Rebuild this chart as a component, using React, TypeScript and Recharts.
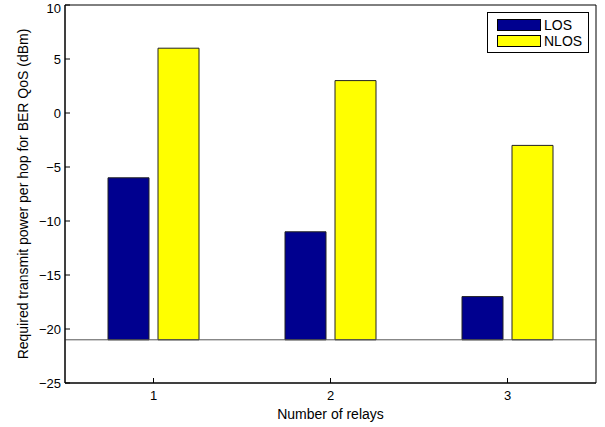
import React from "react";
import {
  ComposedChart, Bar, XAxis, YAxis, ReferenceLine, ReferenceArea,
} from "recharts";

// ─── Data ────────────────────────────────────────────────────────────────────

const RELAYS = ["1", "2", "3"];
const LOS = [-6, -11, -17];
const NLOS = [6, 3, -3];
const BASE_VALUE = -21;
const Y_MIN = -25;
const Y_MAX = 10;
const Y_TICKS = [-25, -20, -15, -10, -5, 0, 5, 10];

const data = RELAYS.map((r, i) => ({
  relays: r,
  los: [BASE_VALUE, LOS[i]],
  nlos: [BASE_VALUE, NLOS[i]],
}));

// ─── Styles / layout ─────────────────────────────────────────────────────────

const FONT = "'Liberation Sans', Arial, Helvetica, sans-serif";
const TICK_STYLE = { fontSize: 13, fill: "#000", fontFamily: FONT } as const;
const LABEL_STYLE = { fontSize: 14, fill: "#000", fontFamily: FONT } as const;
const AXIS_LINE = { stroke: "#000", strokeWidth: 1 } as const;
const LOS_COLOR = "#00008f";
const NLOS_COLOR = "#ffff00";

const SERIES = [
  { key: "los", name: "LOS", color: LOS_COLOR },
  { key: "nlos", name: "NLOS", color: NLOS_COLOR },
];

const fmtMinus = (v: number | string) => String(v).replace("-", "\u2212");

function LegendBox() {
  return (
    <div style={{
      position: "absolute", left: 487, top: 12, width: 102, height: 41,
      border: "1px solid #000", background: "#fff",
      fontFamily: FONT, fontSize: 14, boxSizing: "border-box", paddingTop: 4,
    }}>
      {SERIES.map((s) => (
        <div key={s.key} style={{ display: "flex", alignItems: "center", height: 16, marginLeft: 9 }}>
          <span style={{ display: "inline-block", width: 44, height: 12, boxSizing: "border-box", background: s.color, border: "1px solid #000", marginRight: 3 }} />
          <span style={{ lineHeight: "14px" }}>{s.name}</span>
        </div>
      ))}
    </div>
  );
}

export default function App() {
  return (
    <div style={{ position: "absolute", left: 0, top: 0, width: 605, height: 427, background: "#fff" }}>
      <ComposedChart
        width={605}
        height={427}
        data={data}
        margin={{ top: 5, right: 9, bottom: 0, left: 0 }}
        barGap={9}
        barSize={41}
      >
        <XAxis
          dataKey="relays"
          height={44}
          tick={TICK_STYLE}
          fontSize={13}
          tickSize={-5}
          tickMargin={13}
          axisLine={AXIS_LINE}
          tickLine={AXIS_LINE}
          label={{ value: "Number of relays", position: "insideBottom", offset: 8, style: LABEL_STYLE }}
        />
        <YAxis
          width={65}
          domain={[Y_MIN, Y_MAX]}
          ticks={Y_TICKS}
          allowDataOverflow
          tick={TICK_STYLE}
          fontSize={13}
          tickSize={-5}
          tickMargin={9}
          tickFormatter={fmtMinus}
          axisLine={AXIS_LINE}
          tickLine={AXIS_LINE}
          label={{
            value: "Required transmit power per hop for BER QoS (dBm)",
            angle: -90,
            position: "insideLeft",
            offset: 23,
            style: { ...LABEL_STYLE, textAnchor: "middle" },
          }}
        />
        {/* MATLAB-style closed axes box */}
        <ReferenceArea y1={Y_MIN} y2={Y_MAX} fill="none" fillOpacity={0} stroke="#000" strokeWidth={1} ifOverflow="visible" />
        <ReferenceLine y={BASE_VALUE} stroke="#555" strokeWidth={1} />
        {SERIES.map((s) => (
          <Bar key={s.key} dataKey={s.key} name={s.name} fill={s.color} stroke="#222" strokeWidth={1} isAnimationActive={false} />
        ))}
      </ComposedChart>
      <LegendBox />
    </div>
  );
}
